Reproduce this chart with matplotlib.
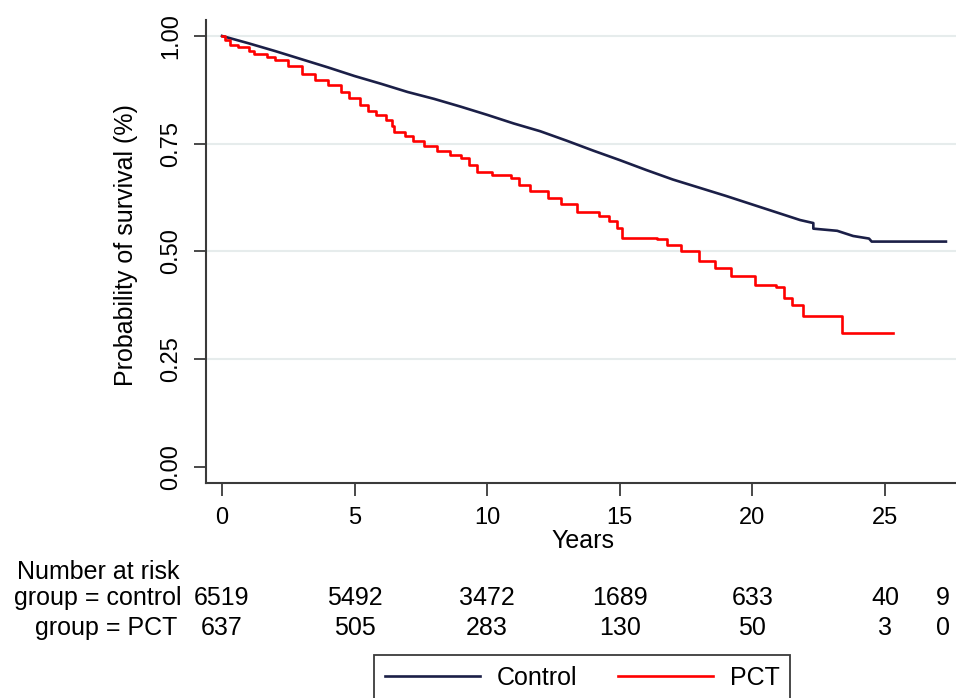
import matplotlib
matplotlib.use("Agg")
import matplotlib.pyplot as plt
from matplotlib.transforms import blended_transform_factory

plt.rcParams['font.family'] = ['Liberation Sans', 'DejaVu Sans']

# ---- data ----
ctrl_t = [0, 1, 2, 3, 4, 5, 6, 7, 8, 9, 10, 11, 12, 13, 14, 15, 16, 17, 18, 19,
          20, 21, 21.8, 22.3, 22.3, 23.2, 23.8, 24.4, 24.5, 27.3]
ctrl_s = [1.000, 0.983, 0.965, 0.946, 0.927, 0.907, 0.889, 0.870, 0.854, 0.836,
          0.817, 0.797, 0.779, 0.757, 0.734, 0.712, 0.689, 0.667, 0.648, 0.629,
          0.609, 0.589, 0.573, 0.566, 0.553, 0.548, 0.536, 0.530, 0.523, 0.523]

pct_t = [0, 0.1, 0.3, 0.6, 1.0, 1.2, 1.7, 2.0, 2.5, 3.0, 3.5, 4.0, 4.5, 4.8, 5.2,
         5.5, 5.8, 6.2, 6.4, 6.5, 6.9, 7.2, 7.6, 8.1, 8.6, 9.0, 9.3, 9.6, 10.2,
         10.9, 11.2, 11.6, 12.3, 12.8, 13.4, 14.2, 14.6, 14.9, 15.1, 16.4, 16.8,
         17.3, 18.0, 18.6, 19.2, 20.1, 20.9, 21.2, 21.5, 21.9, 23.37, 25.3]
pct_s = [1.000, 0.990, 0.980, 0.975, 0.965, 0.958, 0.952, 0.945, 0.930, 0.912,
         0.898, 0.886, 0.870, 0.857, 0.840, 0.826, 0.816, 0.805, 0.790, 0.778,
         0.768, 0.757, 0.745, 0.732, 0.724, 0.716, 0.700, 0.685, 0.678, 0.670,
         0.655, 0.640, 0.624, 0.610, 0.592, 0.582, 0.570, 0.555, 0.532, 0.528,
         0.515, 0.500, 0.478, 0.462, 0.443, 0.422, 0.418, 0.392, 0.375, 0.351,
         0.312, 0.312]

risk_times = [0, 5, 10, 15, 20, 25, 27.2]
risk_control = [6519, 5492, 3472, 1689, 633, 40, 9]
risk_pct = [637, 505, 283, 130, 50, 3, 0]

x_ticks = [0, 5, 10, 15, 20, 25]
y_ticks = [0.00, 0.25, 0.50, 0.75, 1.00]
grid_levels = [0.25, 0.50, 0.75, 1.00]

# ---- figure ----
W, H = 956, 698
fig = plt.figure(figsize=(W / 100, H / 100), dpi=100)
ax = fig.add_axes([206 / W, 1 - 483 / H, 750 / W, 463 / H])

FS_TICK = 17
FS = 18
spine_c = '#3a3a3a'

for g in grid_levels:
    ax.axhline(g, color='#e6ecec', lw=1.5, zorder=0)

l1, = ax.plot(ctrl_t, ctrl_s, color='#1b1f47', lw=1.9, label='Control', zorder=3)
l2, = ax.plot(pct_t, pct_s, color='#ff0000', lw=1.9, drawstyle='steps-post',
              label='PCT', zorder=3)

ax.set_xlim(-0.603, 27.68)
ax.set_ylim(-0.037, 1.037)
ax.set_xticks(x_ticks)
ax.set_yticks(y_ticks)
ax.set_yticklabels([f'{v:.2f}' for v in y_ticks], rotation=90, va='center')
ax.tick_params(axis='both', labelsize=FS_TICK, length=9, width=1.3, color=spine_c,
               direction='out', pad=8)

for s in ['top', 'right']:
    ax.spines[s].set_visible(False)
for s in ['left', 'bottom']:
    ax.spines[s].set_color(spine_c)
    ax.spines[s].set_linewidth(1.5)

ax.set_xlabel('Years', fontsize=FS)
ax.xaxis.set_label_coords((582.5 - 206) / 750, (483 - 548) / 463)
ax.xaxis.label.set_va('baseline')
ax.set_ylabel('Probability of survival (%)', fontsize=FS)
ax.yaxis.set_label_coords((126 - 206) / 750, (483 - 245) / 463)
ax.yaxis.label.set_va('center')

# ---- number at risk table ----
tr = blended_transform_factory(ax.transData, fig.transFigure)
y_head, y_ctrl, y_pct = 579, 605, 635
fig.text(17 / W, 1 - y_head / H, 'Number at risk', fontsize=FS, ha='left', va='baseline')
fig.text(182 / W, 1 - y_ctrl / H, 'group = control', fontsize=FS, ha='right', va='baseline')
fig.text(177 / W, 1 - y_pct / H, 'group = PCT', fontsize=FS, ha='right', va='baseline')
for t, c, p in zip(risk_times, risk_control, risk_pct):
    ax.text(t, 1 - y_ctrl / H, str(c), transform=tr, fontsize=FS, ha='center',
            va='baseline', clip_on=False)
    ax.text(t, 1 - y_pct / H, str(p), transform=tr, fontsize=FS, ha='center',
            va='baseline', clip_on=False)

# ---- legend ----
leg = fig.legend(handles=[l1, l2], loc='upper left',
                 bbox_to_anchor=(374 / W, 1 - 655 / H), ncol=2, fontsize=FS,
                 frameon=True, fancybox=False, borderpad=0.44, handlelength=3.8,
                 handletextpad=0.68, columnspacing=1.6, borderaxespad=0)
leg.get_frame().set_edgecolor(spine_c)
leg.get_frame().set_linewidth(1.3)
leg.get_frame().set_facecolor('white')
leg.get_frame().set_alpha(1)

fig.savefig('out.png', dpi=100)
